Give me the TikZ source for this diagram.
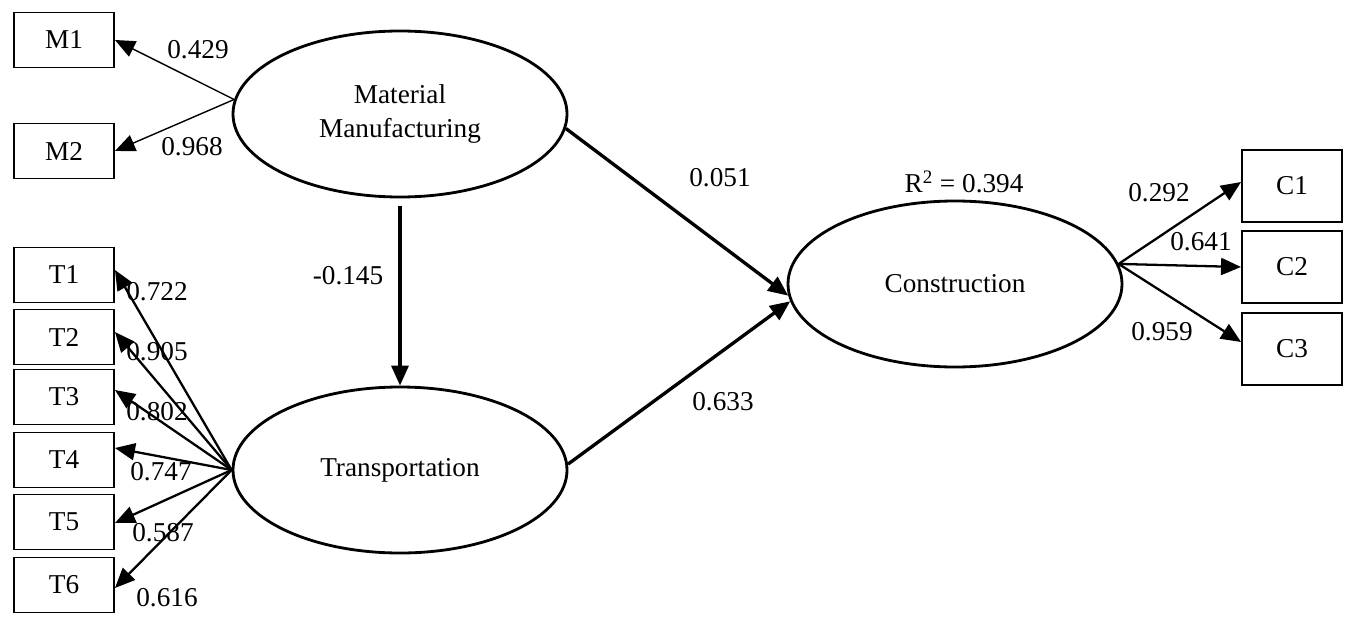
\documentclass[tikz,border=0pt]{standalone}
\usepackage{fontspec}
\setmainfont{Liberation Serif}
\usetikzlibrary{arrows.meta,positioning,shapes}

\begin{document}
\begin{tikzpicture}[font=\fontsize{15.5}{19.3}\selectfont]
 \tikzset{
latent/.style = {ellipse, draw, line width=1.6pt, minimum width=6.68cm, minimum height=3.32cm, inner sep=0pt, align=center},
indicator/.style = {rectangle, draw, line width=1.1pt, minimum width=2cm, minimum height=1.1cm},
regress/.style = {-{Triangle[length=4mm,width=3.4mm]}, line width=1.9pt},
loading/.style = {-{Triangle[length=4mm,width=3.4mm]}, line width=1.3pt},
weight/.style = {inner sep=0pt}}

    \useasboundingbox (0,0) rectangle (27.2,-12.5);

    % constructs
    \node [latent] (MM) at (8.00,-2.28) {Material\\Manufacturing};
    \node [latent] (TR) at (8.00,-9.40) {Transportation};
    \node [latent] (CO) at (19.10,-5.68) {Construction};
    \node (RSQ) at (19.28,-3.64) {R\textsuperscript{2} = 0.394};

    % indicators
    \node [indicator] (M1) at (1.28,-0.80) {M1};
    \node [indicator] (M2) at (1.28,-3.02) {M2};
    \node [indicator] (T1) at (1.28,-5.50) {T1};
    \node [indicator] (T2) at (1.28,-6.74) {T2};
    \node [indicator] (T3) at (1.28,-7.94) {T3};
    \node [indicator] (T4) at (1.28,-9.20) {T4};
    \node [indicator] (T5) at (1.28,-10.44) {T5};
    \node [indicator] (T6) at (1.28,-11.70) {T6};
    \node [indicator] (C1)[minimum height=1.44cm] at (25.84,-3.72) {C1};
    \node [indicator] (C2)[minimum height=1.44cm] at (25.84,-5.34) {C2};
    \node [indicator] (C3)[minimum height=1.44cm] at (25.84,-6.98) {C3};

    % loadings
    \draw [loading, line width=0.8pt] (MM.175) -- (M1.east);
    \draw [loading, line width=0.8pt] (MM.175) -- (M2.east);
    \foreach \i/\dy in {1/1,2/1,3/1.4,4/2.4,5/-0.2,6/-0.6}
      \draw [loading] (TR.west) -- ([yshift=\dy mm]T\i.east);
    \draw [loading] (CO.7) -- ([yshift=0.8mm]C1.west);
    \draw [loading] (CO.7) -- (C2.west);
    \draw [loading] (CO.7) -- ([yshift=1.4mm]C3.west);

    % structural paths
    \draw [regress] ([yshift=-1.6mm]MM.south) -- (TR.north);
    \draw [regress] (MM.-5) -- (CO.184);
    \draw [regress] (TR.2) -- (CO.186);

    % weights
    \node [weight] (wM1) at (3.96,-1.00) {0.429};
    \node [weight] (wM2) at (3.84,-2.94) {0.968};
    \node [weight] (wT1) at (3.14,-5.84) {0.722};
    \node [weight] (wT2) at (3.14,-7.04) {0.905};
    \node [weight] (wT3) at (3.14,-8.24) {0.802};
    \node [weight] (wT4) at (3.22,-9.44) {0.747};
    \node [weight] (wT5) at (3.26,-10.66) {0.587};
    \node [weight] (wT6) at (3.34,-11.96) {0.616};
    \node [weight] (wMT) at (6.96,-5.52) {-0.145};
    \node [weight] (wMC) at (14.40,-3.56) {0.051};
    \node [weight] (wTC) at (14.46,-8.04) {0.633};
    \node [weight] (wC1) at (23.18,-3.86) {0.292};
    \node [weight] (wC2) at (24.02,-4.84) {0.641};
    \node [weight] (wC3) at (23.24,-6.64) {0.959};

  \end{tikzpicture}
\end{document}
